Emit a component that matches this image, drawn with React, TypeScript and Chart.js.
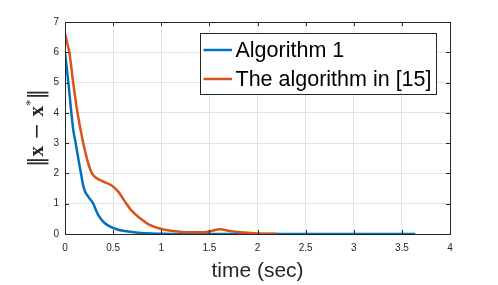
import React, { useEffect, useRef } from "react";
import { Chart, registerables } from "chart.js";

Chart.register(...registerables);

const timeAlg1 = [0, 0.035, 0.066, 0.086, 0.111, 0.14, 0.166, 0.197, 0.245, 0.294, 0.32, 0.346, 0.385, 0.433, 0.536, 0.64, 0.76, 0.9, 1.0, 1.2, 1.5, 2.0, 2.5, 3.0, 3.64];
const errAlg1 = [6.0, 5.0, 4.0, 3.43, 3.0, 2.45, 2.0, 1.5, 1.22, 1.0, 0.8, 0.62, 0.45, 0.31, 0.155, 0.09, 0.045, 0.018, 0.008, 0.002, 0, 0, 0, 0, 0];

const timeRef15 = [0, 0.024, 0.045, 0.085, 0.13, 0.19, 0.242, 0.28, 0.33, 0.398, 0.485, 0.553, 0.623, 0.692, 0.78, 0.88, 1.0, 1.12, 1.3, 1.45, 1.52, 1.61, 1.71, 1.82, 1.99, 2.2];
const errRef15 = [6.62, 6.29, 6.0, 5.0, 4.0, 3.0, 2.33, 2.0, 1.84, 1.73, 1.6, 1.4, 1.07, 0.77, 0.52, 0.3, 0.165, 0.1, 0.055, 0.055, 0.1, 0.155, 0.1, 0.055, 0.02, 0.005];

const seriesNames = ["Algorithm 1", "The algorithm in [15]"];
const seriesColors = ["#0072BD", "#D95319"];
const xTicks = [0, 0.5, 1, 1.5, 2, 2.5, 3, 3.5, 4];
const yTicks = [0, 1, 2, 3, 4, 5, 6, 7];
const xTitle = "time (sec)";

const AXIS = "#262626";
const FONT = "'Liberation Sans', Arial, sans-serif";

const decorPlugin = {
  id: "matlabDecor",
  afterDatasetsDraw(chart: any) {
    const ctx = chart.ctx as CanvasRenderingContext2D;
    const { left, right, top, bottom } = chart.chartArea;
    const xs = chart.scales.x;
    const ys = chart.scales.y;
    ctx.save();
    ctx.strokeStyle = AXIS;
    ctx.lineWidth = 1;
    ctx.strokeRect(Math.round(left) + 0.5, Math.round(top) + 0.5, Math.round(right - left), Math.round(bottom - top));
    const tl = 4;
    ctx.beginPath();
    for (const v of xTicks) {
      const px = Math.round(xs.getPixelForValue(v)) + 0.5;
      ctx.moveTo(px, bottom);
      ctx.lineTo(px, bottom - tl);
      ctx.moveTo(px, top);
      ctx.lineTo(px, top + tl);
    }
    for (const v of yTicks) {
      const py = Math.round(ys.getPixelForValue(v)) + 0.5;
      ctx.moveTo(left, py);
      ctx.lineTo(left + tl, py);
      ctx.moveTo(right, py);
      ctx.lineTo(right - tl, py);
    }
    ctx.stroke();

    // legend
    const bx = 200.5, by = 33.5, bw = 236, bh = 61;
    ctx.fillStyle = "#ffffff";
    ctx.fillRect(bx, by, bw, bh);
    ctx.strokeStyle = AXIS;
    ctx.strokeRect(bx, by, bw, bh);
    const rows = [50, 79];
    ctx.font = `21.5px ${FONT}`;
    ctx.textBaseline = "middle";
    ctx.textAlign = "left";
    seriesNames.forEach((name, i) => {
      ctx.strokeStyle = seriesColors[i];
      ctx.lineWidth = 2.5;
      ctx.beginPath();
      ctx.moveTo(203.5, rows[i]);
      ctx.lineTo(232, rows[i]);
      ctx.stroke();
      ctx.fillStyle = "#000000";
      ctx.fillText(name, 235.5, rows[i] + 1);
    });

    // x title
    ctx.fillStyle = AXIS;
    ctx.font = `21px ${FONT}`;
    ctx.textAlign = "center";
    ctx.textBaseline = "alphabetic";
    ctx.fillText(xTitle, (left + right) / 2, 277);

    // y title (rotated)
    ctx.translate(38, (top + bottom) / 2);
    ctx.rotate(-Math.PI / 2);
    const pieces: [string, string, number][] = [
      ["\u2016", `21px 'DejaVu Sans', sans-serif`, 0],
      ["x", `bold 21px 'Liberation Serif', serif`, 0],
      [" \u2212 ", `20px 'DejaVu Sans', sans-serif`, 0],
      ["x", `bold 21px 'Liberation Serif', serif`, 0],
      ["*", `13px 'Liberation Serif', serif`, -7],
      ["\u2016", `21px 'DejaVu Sans', sans-serif`, 0],
    ];
    let total = 0;
    const widths = pieces.map(([t, f]) => {
      ctx.font = f;
      const w = ctx.measureText(t).width;
      total += w;
      return w;
    });
    let cx = -total / 2;
    ctx.textAlign = "left";
    ctx.textBaseline = "middle";
    ctx.fillStyle = AXIS;
    pieces.forEach(([t, f, dy], i) => {
      ctx.font = f;
      ctx.fillText(t, cx, dy);
      cx += widths[i];
    });
    ctx.restore();
  },
};

export default function App() {
  const ref = useRef<HTMLCanvasElement | null>(null);
  useEffect(() => {
    document.body.style.margin = "0";
    const canvas = ref.current!;
    const chart = new Chart(canvas, {
      type: "line",
      data: {
        datasets: [
          {
            label: seriesNames[1],
            data: timeRef15.map((t, i) => ({ x: t, y: errRef15[i] })),
            borderColor: seriesColors[1],
            borderWidth: 2.5,
            pointRadius: 0,
            cubicInterpolationMode: "monotone",
            fill: false,
            order: 0,
          },
          {
            label: seriesNames[0],
            data: timeAlg1.map((t, i) => ({ x: t, y: errAlg1[i] })),
            borderColor: seriesColors[0],
            borderWidth: 2.5,
            pointRadius: 0,
            cubicInterpolationMode: "monotone",
            fill: false,
            order: 1,
          },
        ],
      },
      options: {
        responsive: false,
        animation: false,
        devicePixelRatio: 1,
        layout: { padding: { top: 22, right: 48, left: 0, bottom: 0 } },
        plugins: { legend: { display: false }, tooltip: { enabled: false } },
        scales: {
          x: {
            type: "linear",
            min: 0,
            max: 4,
            afterFit: (s: any) => { s.height = 51; },
            afterBuildTicks: (s: any) => { s.ticks = xTicks.map((v) => ({ value: v })); },
            ticks: { color: AXIS, font: { family: FONT, size: 10 }, padding: 8, maxRotation: 0, callback: (v: any) => String(v) },
            grid: { color: "#e3e3e3", drawTicks: false },
            border: { display: false },
          },
          y: {
            type: "linear",
            min: 0,
            max: 7,
            afterFit: (s: any) => { s.width = 65; },
            afterBuildTicks: (s: any) => { s.ticks = yTicks.map((v) => ({ value: v })); },
            ticks: { color: AXIS, font: { family: FONT, size: 10 }, padding: 6, callback: (v: any) => String(v) },
            grid: { color: "#e3e3e3", drawTicks: false },
            border: { display: false },
          },
        },
      },
      plugins: [decorPlugin],
    } as any);
    return () => chart.destroy();
  }, []);
  return (
    <div style={{ position: "absolute", left: 0, top: 0, width: 498, height: 285 }}>
      <canvas ref={ref} width={498} height={285} />
    </div>
  );
}
